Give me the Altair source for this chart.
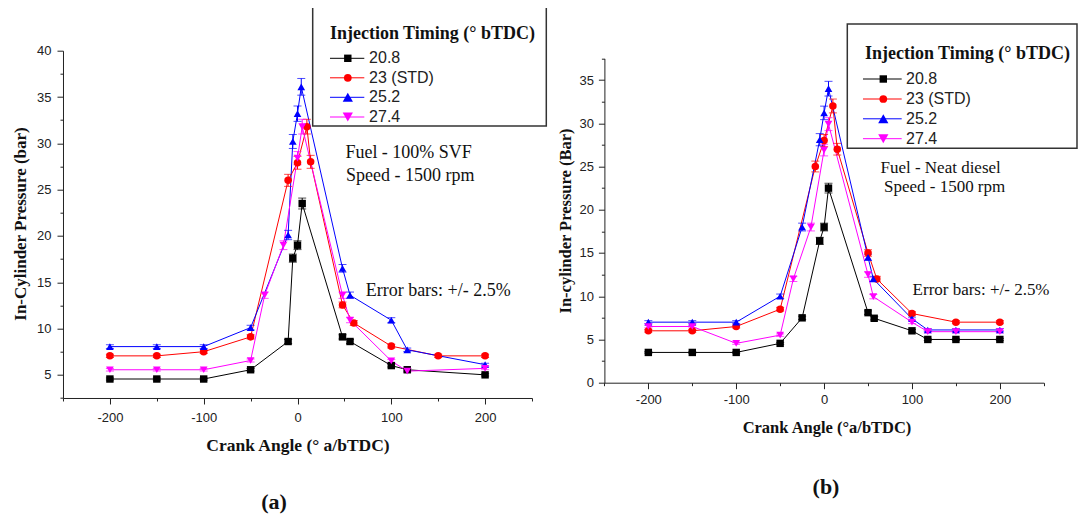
import altair as alt
import pandas as pd

SERIES = ["20.8", "23 (STD)", "25.2", "27.4"]
COLORS = ["#000000", "#ff0000", "#0000ff", "#ff00ff"]
SHAPES = ["square", "circle", "triangle-up", "triangle-down"]
SIZES = [55, 60, 105, 105]

# ---- Panel (a): Fuel 100% SVF ----
a_x_208 = [-200, -150, -100, -50, -10, -5, 0, 5, 48, 56, 100, 117, 200]
a_y_208 = [4.55, 4.55, 4.55, 5.55, 8.6, 17.6, 19.0, 23.5, 9.1, 8.6, 6.0, 5.55, 5.0]
a_x_23 = [-200, -150, -100, -50, -10, 0, 10, 14, 48, 60, 100, 150, 200]
a_y_23 = [7.05, 7.05, 7.5, 9.1, 26.0, 27.9, 31.8, 28.0, 12.55, 10.6, 8.1, 7.05, 7.05]
a_x_252 = [-200, -150, -100, -50, -10, -5, 0, 4, 48, 56, 100, 117, 200]
a_y_252 = [8.05, 8.05, 8.05, 10.1, 20.1, 30.2, 33.2, 36.1, 16.5, 13.6, 10.9, 7.7, 6.1]
a_x_274 = [-200, -150, -100, -50, -35, -15, 0, 5, 48, 56, 100, 117, 200]
a_y_274 = [5.55, 5.55, 5.55, 6.55, 13.6, 19.0, 28.4, 31.8, 13.6, 10.9, 6.5, 5.4, 5.7]

# ---- Panel (b): Fuel neat diesel ----
b_x_208 = [-200, -150, -100, -50, -25, -5, 0, 5, 50, 57, 100, 118, 150, 200]
b_y_208 = [3.5, 3.5, 3.5, 4.55, 7.5, 16.4, 18.0, 22.5, 8.1, 7.45, 6.0, 5.0, 5.0, 5.0]
b_x_23 = [-200, -150, -100, -50, -10, 0, 10, 15, 50, 60, 100, 150, 200]
b_y_23 = [6.0, 6.0, 6.5, 8.5, 25.0, 28.0, 32.0, 27.0, 15.0, 12.0, 8.0, 7.0, 7.0]
b_x_252 = [-200, -150, -100, -50, -25, -5, 0, 5, 50, 56, 100, 118, 150, 200]
b_y_252 = [7.0, 7.0, 7.0, 10.0, 18.0, 28.1, 31.2, 34.0, 14.5, 12.0, 7.4, 6.1, 6.1, 6.1]
b_x_274 = [-200, -150, -100, -50, -35, -15, 0, 5, 50, 56, 100, 118, 150, 200]
b_y_274 = [6.5, 6.5, 4.55, 5.5, 12.0, 18.0, 26.9, 29.9, 12.5, 9.95, 7.0, 5.9, 5.9, 5.9]

ERR = 0.025  # error bars +/- 2.5 %


def table(xs_list, ys_list):
    rows = []
    for s, xs, ys in zip(SERIES, xs_list, ys_list):
        for xv, yv in zip(xs, ys):
            rows.append({"series": s, "x": xv, "y": yv,
                         "lo": yv * (1 - ERR), "hi": yv * (1 + ERR)})
    return pd.DataFrame(rows)


df_a = table([a_x_208, a_x_23, a_x_252, a_x_274], [a_y_208, a_y_23, a_y_252, a_y_274])
df_b = table([b_x_208, b_x_23, b_x_252, b_x_274], [b_y_208, b_y_23, b_y_252, b_y_274])

# plot-area origin on the page
OX, OY = 63.0, 50.7
W, H = 980.8, 347.3

SANS = "Liberation Sans"
SERIF = "Liberation Serif"
AX = "#222222"

color = alt.Color("series:N", scale=alt.Scale(domain=SERIES, range=COLORS), legend=None)
shape = alt.Shape("series:N", scale=alt.Scale(domain=SERIES, range=SHAPES), legend=None)
msize = alt.Size("series:N", scale=alt.Scale(domain=SERIES, range=SIZES), legend=None)


def make_axis(values, step, offset, orient, pad):
    return alt.Axis(
        values=values, orient=orient, offset=offset, title=None, grid=False,
        labelExpr=f"datum.value % {step} === 0 ? '' + datum.value : ''",
        tickSize={"condition": {"test": f"datum.value % {step} === 0", "value": 6}, "value": 3},
        domainColor=AX, tickColor=AX, labelColor=AX, domainWidth=1, tickWidth=1,
        labelFont=SANS, labelFontSize=13, labelPadding=pad,
        labelFlush=False, labelOverlap=False,
    )


def panel(df, xrange, yrange, ydom, yvals, xoff, yoff, xpad, ypad):
    xs = alt.Scale(domain=[-250, 250], range=xrange, nice=False, zero=False)
    ys = alt.Scale(domain=ydom, range=yrange, nice=False, zero=False)
    xa = make_axis(list(range(-250, 251, 50)), 100, xoff, "bottom", xpad)
    ya = make_axis(yvals, 5, yoff, "left", ypad)

    def X():
        return alt.X("x:Q", scale=xs, axis=xa)

    def Y(f):
        return alt.Y(f, scale=ys, axis=ya)

    base = alt.Chart(df)
    lines = base.mark_line(strokeWidth=1).encode(x=X(), y=Y("y:Q"), color=color)
    rules = base.mark_rule(strokeWidth=1).encode(x=X(), y=Y("lo:Q"), y2="hi:Q", color=color)
    cap_lo = base.mark_tick(orient="horizontal", size=8, thickness=1).encode(
        x=X(), y=Y("lo:Q"), color=color)
    cap_hi = base.mark_tick(orient="horizontal", size=8, thickness=1).encode(
        x=X(), y=Y("hi:Q"), color=color)
    pts = base.mark_point(filled=True, opacity=1).encode(
        x=X(), y=Y("y:Q"), color=color, shape=shape, size=msize)
    return alt.layer(lines, rules, cap_lo, cap_hi, pts)


yv_a = [2.5 * i for i in range(1, 17)]
yv_b = [2.5 * i for i in range(0, 16)]

panel_a = panel(df_a, [0, 469.0], [H, 0], [2.5, 40], yv_a, 0, 0, 8, 6)
panel_b = panel(df_b, [604.4 - OX, 1043.8 - OX], [382.7 - OY, 58.4 - OY], [0, 37.5], yv_b,
                -(H - (382.7 - OY)), -(604.4 - OX), 5, 5)

ONE = alt.Data(values=[{}])


def txt(s, px, py, size, font=SERIF, weight="normal", align="left", angle=0, col="#111111"):
    return alt.Chart(ONE).mark_text(
        text=s, align=align, baseline="middle", font=font, fontSize=size,
        fontWeight=weight, angle=angle, color=col,
    ).encode(x=alt.value(px - OX), y=alt.value(py - OY))


def box(x0, y0, x1, y1):
    return alt.Chart(ONE).mark_rect(fill="white", stroke="#333333", strokeWidth=1.5).encode(
        x=alt.value(x0 - OX), x2=alt.value(x1 - OX), y=alt.value(y0 - OY), y2=alt.value(y1 - OY))


def legend(lx0, lx1, sx, tx, ys, title_x, title_y):
    layers = [txt("Injection Timing (° bTDC)", title_x, title_y, 18, weight="bold")]
    for s, c, shp, sz, yy in zip(SERIES, COLORS, SHAPES, SIZES, ys):
        layers.append(alt.Chart(ONE).mark_rule(color=c, strokeWidth=1).encode(
            x=alt.value(lx0 - OX), x2=alt.value(lx1 - OX), y=alt.value(yy - OY)))
        layers.append(alt.Chart(ONE).mark_point(
            shape=shp, filled=True, size=sz, opacity=1, color=c).encode(
            x=alt.value(sx - OX), y=alt.value(yy - OY)))
        layers.append(txt(s, tx, yy, 16, font=SANS, col="#222222"))
    return layers


decor_back = [box(312.7, 5, 546.3, 126), box(847.3, 24, 1077.0, 148.3)]

decor = []
decor += legend(330, 364.3, 347.8, 369.1, [58.3, 77.8, 97.3, 117.0], 330, 33.5)
decor += legend(863, 901.7, 883.3, 906, [79, 99, 118.8, 138.7], 865, 54)
decor += [
    txt("In-Cylinder Pressure (bar)", 21.5, 224, 17, weight="bold", align="center", angle=270),
    txt("Crank Angle (° a/bTDC)", 298, 446, 17.5, weight="bold", align="center"),
    txt("In-cylinder Pressure (Bar)", 566, 221, 16.5, weight="bold", align="center", angle=270),
    txt("Crank Angle (°a/bTDC)", 827, 428, 16.5, weight="bold", align="center"),
    txt("Fuel - 100% SVF", 345.4, 153.3, 18),
    txt("Speed - 1500 rpm", 346, 175.7, 18),
    txt("Error bars:  +/- 2.5%", 365.7, 290.7, 18),
    txt("Fuel - Neat diesel", 880.5, 168.3, 17),
    txt(" Speed - 1500 rpm", 884, 187.3, 17),
    txt("Error bars: +/- 2.5%", 912.6, 290, 17),
    txt("(a)", 274, 502, 22, weight="bold", align="center"),
    txt("(b)", 826, 487, 22, weight="bold", align="center"),
]

chart = alt.layer(*decor_back, panel_a, panel_b, *decor).resolve_scale(
    x="independent", y="independent"
).properties(
    width=W, height=H,
    autosize=alt.AutoSizeParams(type="none"),
    padding={"left": OX - 8, "top": OY - 8, "right": 34, "bottom": 117},
).configure_view(stroke=None)

chart.save("out.html", embed_options={"renderer": "svg", "actions": False})
